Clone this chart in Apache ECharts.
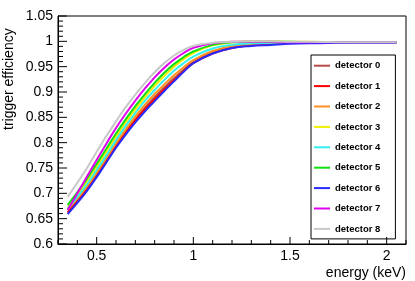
<!DOCTYPE html>
<html>
<head>
<meta charset="utf-8">
<script src="https://cdn.jsdelivr.net/npm/echarts@6/dist/echarts.min.js"></script>
<style>html,body{margin:0;padding:0;background:#fff}#c{width:415px;height:281px}</style>
</head>
<body>
<div id="c"></div>
<script>
var energy = [0.35,0.4,0.45,0.5,0.55,0.6,0.65,0.7,0.75,0.8,0.85,0.9,0.95,1.0,1.1,1.2,1.3,1.4,1.5,1.6,1.8,2.05];
var det0 = [0.663,0.685,0.709,0.736,0.765,0.794,0.821,0.846,0.869,0.890,0.909,0.927,0.944,0.959,0.978,0.989,0.994,0.996,0.997,0.998,0.998,0.998];
var det1 = [0.662,0.683,0.707,0.734,0.763,0.792,0.819,0.844,0.866,0.886,0.905,0.923,0.941,0.957,0.976,0.987,0.992,0.995,0.997,0.997,0.998,0.998];
var det2 = [0.669,0.690,0.714,0.741,0.770,0.799,0.826,0.852,0.875,0.896,0.915,0.933,0.949,0.963,0.981,0.991,0.995,0.997,0.998,0.998,0.998,0.998];
var det3 = [0.673,0.697,0.723,0.752,0.782,0.812,0.840,0.866,0.890,0.912,0.932,0.950,0.965,0.977,0.992,0.998,1.000,1.000,0.999,0.999,0.998,0.998];
var det4 = [0.670,0.693,0.718,0.746,0.775,0.805,0.833,0.859,0.883,0.904,0.924,0.942,0.957,0.970,0.986,0.993,0.996,0.997,0.998,0.998,0.998,0.998];
var det5 = [0.677,0.702,0.729,0.758,0.788,0.818,0.846,0.872,0.896,0.918,0.938,0.955,0.969,0.980,0.993,0.998,0.999,0.999,0.999,0.998,0.998,0.998];
var det6 = [0.659,0.681,0.705,0.732,0.761,0.790,0.816,0.840,0.862,0.882,0.902,0.921,0.940,0.957,0.976,0.987,0.991,0.993,0.995,0.996,0.997,0.997];
var det7 = [0.667,0.700,0.733,0.766,0.798,0.829,0.857,0.883,0.907,0.929,0.948,0.964,0.977,0.987,0.996,0.999,0.999,0.999,0.998,0.998,0.998,0.998];
var det8 = [0.693,0.721,0.750,0.782,0.813,0.842,0.870,0.895,0.918,0.939,0.957,0.972,0.983,0.991,0.997,0.999,1.000,1.000,0.999,0.999,0.998,0.998];
var names = ['detector 0','detector 1','detector 2','detector 3','detector 4','detector 5','detector 6','detector 7','detector 8'];
var xMajorTicks = [0.5,1,1.5,2];
var xTitle = 'energy (keV)';
var yTitle = 'trigger efficiency';

var X_MIN = 0.3, X_MAX = 2.1, Y_MIN = 0.6, Y_MAX = 1.05;
var allData = [det0,det1,det2,det3,det4,det5,det6,det7,det8];
var colors = ['#b84a4a','#ff0000','#ff9020','#f0f000','#30f0f0','#10e010','#2a2aff','#e000f0','#c8c8c8'];
var FONT = '"Liberation Sans", Arial, Helvetica, sans-serif';

var series = allData.map(function(arr, i){
  return {
    name: names[i], type: 'line', xAxisIndex: 0, yAxisIndex: 0,
    data: energy.map(function(x, j){ return [x, arr[j]]; }),
    symbol: 'none', smooth: 0.4,
    lineStyle: {color: colors[i], width: 2},
    itemStyle: {color: colors[i]},
    emphasis: {disabled: true}, animation: false, z: 2
  };
});

var titles = [
  {type: 'text', id: 'xt', x: 406, y: 273, style: {text: xTitle, fill: '#000', font: '14px ' + FONT, textAlign: 'right', textVerticalAlign: 'middle'}},
  {type: 'text', id: 'yt', x: 9, y: 130, rotation: Math.PI/2, style: {text: yTitle, fill: '#000', font: '14px ' + FONT, textAlign: 'left', textVerticalAlign: 'middle'}}
];

var chart = echarts.init(document.getElementById('c'), null, {renderer: 'canvas'});
chart.setOption({
  backgroundColor: '#ffffff',
  animation: false,
  textStyle: {fontFamily: FONT},
  grid: {left: 58, right: 9, top: 16, bottom: 37, show: true, borderColor: '#000', borderWidth: 1, backgroundColor: 'transparent'},
  xAxis: {
    type: 'value', min: X_MIN, max: X_MAX, position: 'bottom',
    axisLine: {show: true, onZero: false, lineStyle: {color: '#000', width: 1}},
    axisTick: {show: false},
    axisLabel: {show: true, customValues: xMajorTicks, color: '#000', fontSize: 14, fontFamily: FONT, margin: 5},
    splitLine: {show: false}
  },
  yAxis: {
    type: 'value', min: Y_MIN, max: Y_MAX, interval: 0.05, position: 'left',
    axisLine: {show: true, onZero: false, lineStyle: {color: '#000', width: 1}},
    axisTick: {show: false},
    axisLabel: {color: '#000', fontSize: 14, fontFamily: FONT, margin: 5},
    splitLine: {show: false}
  },
  legend: {
    orient: 'vertical', left: 311, top: 55,
    data: names, icon: 'rect',
    backgroundColor: '#fff', borderColor: '#000', borderWidth: 1,
    padding: [4.7, 15, 4, 3],
    itemWidth: 16, itemHeight: 2, itemGap: 8.4,
    textStyle: {color: '#000', fontSize: 9.5, fontWeight: 'bold', fontFamily: FONT, lineHeight: 12},
    selectedMode: false
  },
  graphic: titles,
  series: series
});

// Tick marks: lengths in pixels converted to data units through the chart's own scales
var o = chart.convertToPixel({gridIndex: 0}, [X_MIN, Y_MIN]);
var one = chart.convertToPixel({gridIndex: 0}, [X_MIN + 1, Y_MIN + 1]);
var pxPerX = one[0] - o[0], pxPerY = o[1] - one[1];
var tickPts = [];
for (var k = 60; k <= 105; k++) {
  var yv = k / 100, len = (k % 5 === 0) ? 9 : 5;
  tickPts.push([X_MIN, yv], [X_MIN + len / pxPerX, yv], ['-', '-']);
}
for (var m = 3; m <= 21; m++) {
  var xv = m / 10;
  var major = xMajorTicks.some(function(t){ return Math.abs(t - xv) < 1e-9; });
  var ln = major ? 7 : 4;
  tickPts.push([xv, Y_MIN], [xv, Y_MIN + ln / pxPerY], ['-', '-']);
}
series.push({
  name: 'ticks', type: 'line', data: tickPts, symbol: 'none', connectNulls: false,
  lineStyle: {color: '#000', width: 1}, itemStyle: {color: '#000'},
  silent: true, clip: false, z: 20, emphasis: {disabled: true}, animation: false
});
chart.setOption({series: series});
</script>
</body>
</html>
